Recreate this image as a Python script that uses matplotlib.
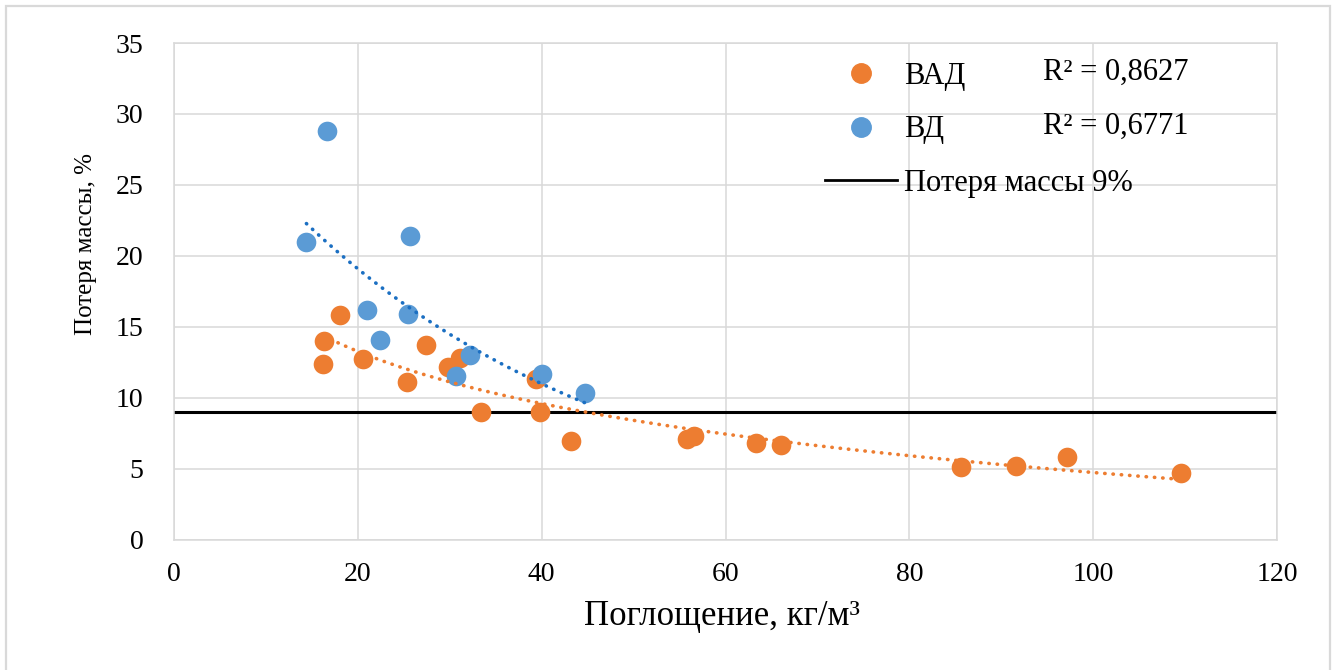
import numpy as np
import matplotlib.pyplot as plt
from matplotlib.lines import Line2D
from matplotlib.patches import Rectangle

plt.rcParams['font.family'] = ['Liberation Serif', 'DejaVu Serif']

# ВАД (orange)
vad_x = [18.1, 16.3, 16.2, 20.6, 27.4, 25.3, 29.8, 31.1, 39.4, 33.4, 39.8, 43.2,
         55.8, 56.6, 63.3, 66.0, 85.6, 91.6, 97.2, 109.6]
vad_y = [15.8, 14.0, 12.4, 12.75, 13.75, 11.1, 12.2, 12.8, 11.3, 9.0, 9.0, 6.95,
         7.1, 7.3, 6.8, 6.7, 5.15, 5.2, 5.85, 4.7]
# ВД (blue)
vd_x = [16.6, 14.4, 25.7, 21.0, 25.5, 22.4, 32.2, 30.7, 40.0, 44.7]
vd_y = [28.8, 21.0, 21.4, 16.2, 15.9, 14.1, 13.0, 11.5, 11.7, 10.3]

limit_y = 9
r2_labels = ['R² = 0,8627', 'R² = 0,6771']
x_ticks = [0, 20, 40, 60, 80, 100, 120]
y_ticks = [0, 5, 10, 15, 20, 25, 30, 35]

orange = '#ED7D31'
blue = '#5B9BD5'
grid_c = '#d9d9d9'

# trendlines: logarithmic for ВАД, exponential for ВД (as in Excel)
xa = np.asarray(vad_x)
pa = np.polyfit(np.log(xa), vad_y, 1)
ta = np.linspace(xa.min(), xa.max(), 200)
xb = np.asarray(vd_x)
pb = np.polyfit(xb, np.log(vd_y), 1)
tb = np.linspace(xb.min(), xb.max(), 200)

fig = plt.figure(figsize=(13.39, 6.70), dpi=100)
fig.patches.append(Rectangle((6 / 1339, -0.05), 1324 / 1339, 1.05 - 6 / 670,
                             transform=fig.transFigure, fill=False,
                             edgecolor=grid_c, lw=1.6))

ax = fig.add_axes([0.1300, 0.1946, 0.8237, 0.7412])
ax.scatter(vad_x, vad_y, s=200, color=orange, zorder=3, linewidths=0)
ax.scatter(vd_x, vd_y, s=200, color=blue, zorder=3, linewidths=0)
ax.plot(ta, np.polyval(pa, np.log(ta)), color=orange, lw=2.6,
        ls=(0, (0.1, 2.2)), dash_capstyle='round', zorder=4)
ax.plot(tb, np.exp(np.polyval(pb, tb)), color='#1b6fc2', lw=2.6,
        ls=(0, (0.1, 2.2)), dash_capstyle='round', zorder=4)
ax.axhline(limit_y, color='black', lw=2.2, zorder=2)

ax.set_xlim(0, 120)
ax.set_ylim(0, 35)
ax.set_xticks(x_ticks)
ax.set_yticks(y_ticks)
ax.grid(True, color=grid_c, lw=1.1)
ax.set_axisbelow(True)
for s in ax.spines.values():
    s.set_color(grid_c)
    s.set_linewidth(1.1)
ax.tick_params(length=0, labelsize=20)
ax.tick_params(axis='x', pad=16)
ax.tick_params(axis='y', pad=22)

ax.set_xlabel('Поглощение, кг/м³', fontsize=25)
ax.xaxis.set_label_coords(0.497, -0.122)
ax.set_ylabel('Потеря массы, %', fontsize=18)
ax.yaxis.set_label_coords(-0.070, 0.596)

handles = [
    Line2D([], [], ls='none', marker='o', ms=14, mfc=orange, mec=orange),
    Line2D([], [], ls='none', marker='o', ms=14, mfc=blue, mec=blue),
    Line2D([], [], color='black', lw=2),
]
leg = ax.legend(handles, ['ВАД', 'ВД', 'Потеря массы 9%'], loc='upper left',
                bbox_to_anchor=(825 / 1339, 1 - 62 / 670),
                bbox_transform=fig.transFigure, frameon=False, fontsize=22,
                handlelength=2.35, handletextpad=0.25, labelspacing=0.8,
                borderpad=0, borderaxespad=0)
fig.text(1043 / 1339, 1 - 72 / 670, r2_labels[0], fontsize=22, va='center')
fig.text(1043 / 1339, 1 - 126 / 670, r2_labels[1], fontsize=22, va='center')

fig.savefig('out.png')
